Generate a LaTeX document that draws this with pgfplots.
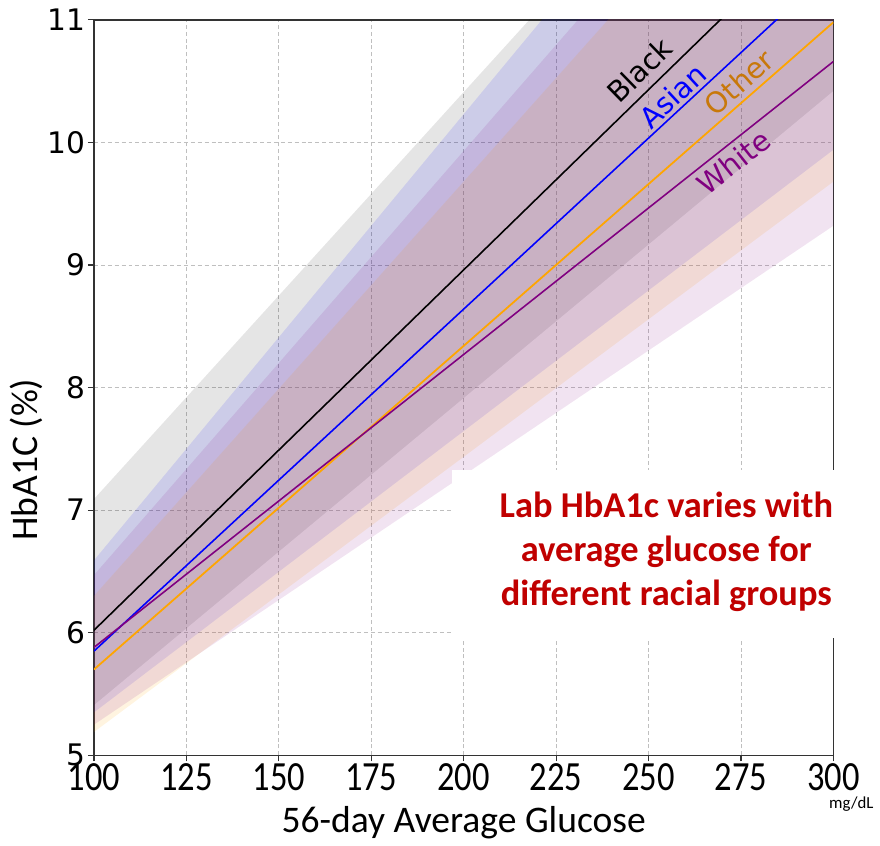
\documentclass[border=0pt]{standalone}
\usepackage{fontspec}
\setmainfont{Carlito}
\newfontfamily\dejavu{DejaVu Sans}
\newfontfamily\xtickfont[FakeStretch=0.83]{Carlito}
\usepackage{pgfplots}
\pgfplotsset{compat=1.18}
\usetikzlibrary{calc}
\definecolor{othertxt}{RGB}{200,120,10}
\definecolor{orangeline}{RGB}{255,165,0}
\definecolor{purpleline}{RGB}{128,0,128}
\definecolor{darkred}{RGB}{192,0,0}
\begin{document}
\begin{tikzpicture}
\begin{axis}[
  name=ax,
  width=374pt, height=372pt, scale only axis,
  xmin=100, xmax=300, ymin=5, ymax=11,
  xtick={100,125,...,300}, ytick={5,6,...,11},
  grid=major,
  major grid style={black!25, line width=0.4pt, dash pattern=on 2pt off 1.5pt},
  axis line style={black!80, line width=0.75pt},
  tick align=outside, tick pos=left,
  major tick length=3pt,
  tick style={black!80, line width=0.6pt},
  /pgf/number format/assume math mode=true,
  xticklabel style={font=\xtickfont\fontsize{21}{21}\selectfont, inner sep=0pt, yshift=-1pt},
  yticklabel style={font=\dejavu\fontsize{15}{15}\selectfont, inner sep=0pt, xshift=-1pt},
  xlabel={56-day Average Glucose},
  ylabel={HbA1C (\%)},
  xlabel style={font=\fontsize{19}{19}\selectfont, at={(axis description cs:0.5,0)}, anchor=base, yshift=-39pt},
  ylabel style={font=\fontsize{19}{19}\selectfont, at={(axis description cs:-0.0762,0.402)}, anchor=base, rotate=0},
]
% bands (upper edge, then lower edge reversed)
\addplot[draw=none, fill=black, fill opacity=0.1] coordinates {(100,7.09) (300,13.73) (300,10.42) (100,5.41)} -- cycle;
\addplot[draw=none, fill=blue, fill opacity=0.11] coordinates {(100,6.59) (300,13.87) (300,9.94) (100,5.35)} -- cycle;
\addplot[draw=none, fill=orangeline, fill opacity=0.12] coordinates {(100,6.30) (300,13.06) (300,9.68) (100,5.19)} -- cycle;
\addplot[draw=none, fill=purpleline, fill opacity=0.11] coordinates {(100,6.47) (300,13.39) (300,9.32) (100,5.25)} -- cycle;
% lines
\addplot[black, line width=0.8pt] coordinates {(100,6.02) (300,11.90)};
\addplot[blue, line width=0.8pt] coordinates {(100,5.85) (300,11.43)};
\addplot[orangeline, line width=0.9pt] coordinates {(100,5.70) (300,10.98)};
\addplot[purpleline, line width=0.8pt] coordinates {(100,5.88) (300,10.66)};
% labels
\node[rotate=44.3, text=black, font=\dejavu\fontsize{14.5}{14.5}\selectfont] at (axis cs:247.5,10.59) {Black};
\node[rotate=42.8, text=blue, font=\dejavu\fontsize{14.5}{14.5}\selectfont] at (axis cs:256.5,10.38) {Asian};
\node[rotate=41.2, text=othertxt, font=\dejavu\fontsize{14.5}{14.5}\selectfont] at (axis cs:274.5,10.49) {Other};
\node[rotate=38.4, text=purpleline, font=\dejavu\fontsize{14.5}{14.5}\selectfont] at (axis cs:273.0,9.84) {White};
\end{axis}
\fill[white] ($(ax.south west)+(181pt,59.5pt)$) rectangle ($(ax.south west)+(392.5pt,144.5pt)$);
\node[align=center, text=darkred, font=\bfseries\fontsize{18.4}{22.3}\selectfont] at ($(ax.south west)+(289.5pt,103pt)$) {Lab HbA1c varies with\\average glucose for\\different racial groups};
\node[font=\fontsize{8.5}{8.5}\selectfont] at ($(ax.south east)+(9pt,-24.5pt)$) {mg/dL};
\path ($(ax.south west)+(-47.5pt,-39pt)$) rectangle ($(ax.north east)+(18.5pt,10pt)$);
\end{tikzpicture}
\end{document}
